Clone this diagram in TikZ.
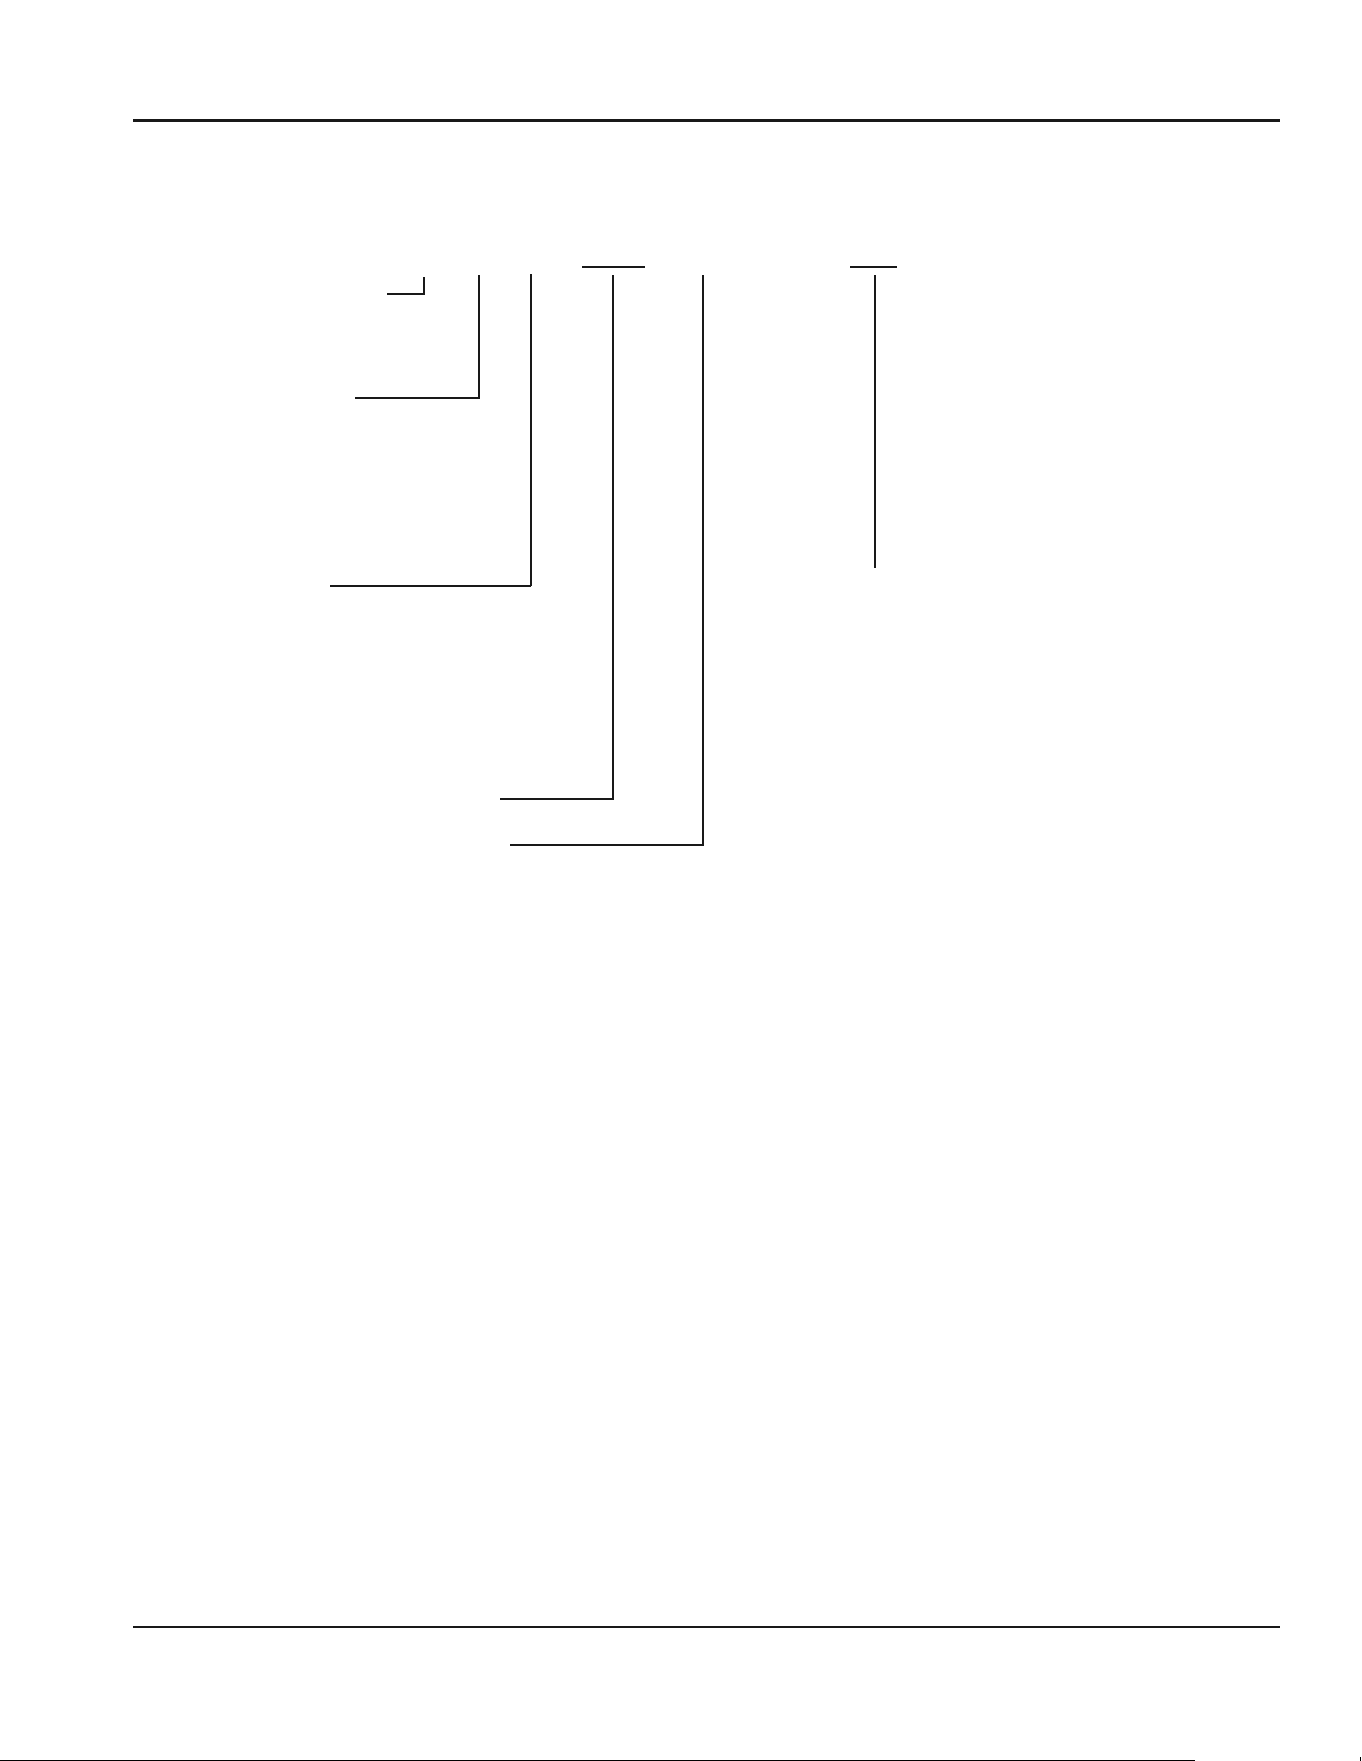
\documentclass[tikz,border=0pt]{standalone}
\begin{document}
\begin{tikzpicture}[x=0.5pt,y=-0.5pt,
  rule/.style={line width=1.5pt,color=black!90},
  thinrule/.style={line width=1pt,color=black!90},
  leader/.style={line width=0.65pt,color=black!90},
  bar/.style={line width=1.1pt,color=black!90}]
\useasboundingbox (0,0) rectangle (1361,1761);
% page rules
\coordinate (tl) at (133,120.5); \coordinate (tr) at (1280,120.5);
\coordinate (bl) at (133,1627); \coordinate (br) at (1280,1627);
\draw[rule] (tl) -- (tr);
\draw[thinrule] (bl) -- (br);
\coordinate (el) at (0,1760.5); \coordinate (er) at (1195,1760.5);
\draw[line width=0.5pt] (el) -- (er);
\coordinate (tk1) at (1360,1757); \coordinate (tk2) at (1360,1761);
\draw[line width=0.5pt] (tk1) -- (tk2);
% leader 1
\coordinate (a1) at (424,277); \coordinate (a2) at (424,294); \coordinate (a3) at (387,294);
\draw[leader] (a1) -- (a2) -- (a3);
% leader 2
\coordinate (b1) at (479,275); \coordinate (b2) at (479,398); \coordinate (b3) at (355,398);
\draw[leader] (b1) -- (b2) -- (b3);
% leader 3
\coordinate (c1) at (531,274); \coordinate (c2) at (531,586); \coordinate (c3) at (330,586);
\draw[leader] (c1) -- (c2);
\draw[bar] (c2) -- (c3);
% bar 1 and leader 4
\coordinate (d1) at (582,266.7); \coordinate (d2) at (645,266.7);
\draw[bar] (d1) -- (d2);
\coordinate (e1) at (613,275); \coordinate (e2) at (613,799); \coordinate (e3) at (500,799);
\draw[leader] (e1) -- (e2) -- (e3);
% leader 5
\coordinate (f1) at (703,275); \coordinate (f2) at (703,845); \coordinate (f3) at (510,845);
\draw[leader] (f1) -- (f2) -- (f3);
% bar 2 and leader 6
\coordinate (g1) at (850,266.7); \coordinate (g2) at (897,266.7);
\draw[bar] (g1) -- (g2);
\coordinate (h1) at (875,275); \coordinate (h2) at (875,568);
\draw[leader] (h1) -- (h2);
\end{tikzpicture}
\end{document}
